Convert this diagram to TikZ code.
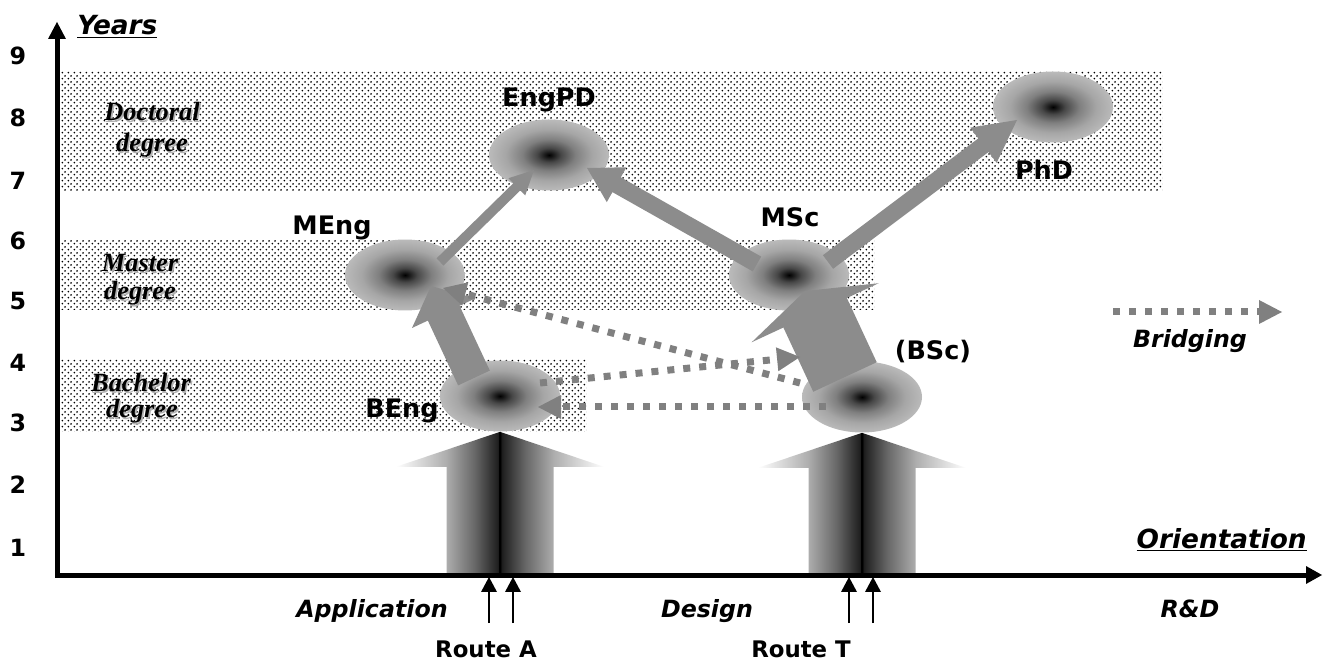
\documentclass[tikz,border=0pt]{standalone}
\usepackage{fontspec}
\usetikzlibrary{shapes.geometric,patterns,calc}
\newfontfamily\dvs{DejaVu Sans}
\newfontfamily\lser{Liberation Serif}
\definecolor{arrc}{gray}{0.55}
\definecolor{dotc}{gray}{0.5}
\pgfdeclarepatternformonly{bgdots}{\pgfqpoint{0pt}{0pt}}{\pgfqpoint{3.5pt}{3.5pt}}{\pgfqpoint{3.5pt}{3.5pt}}{%
  \pgfpathcircle{\pgfqpoint{0.875pt}{0.875pt}}{0.6pt}%
  \pgfpathcircle{\pgfqpoint{2.625pt}{2.625pt}}{0.6pt}%
  \pgfusepath{fill}}
\pgfdeclareradialshading{blob}{\pgfpoint{0bp}{0bp}}{color(0bp)=(black); color(5bp)=(black!72); color(11bp)=(black!50); color(18bp)=(black!35); color(25bp)=(black!27); color(50bp)=(black!27)}
\pgfdeclarehorizontalshading{route}{100bp}{color(0bp)=(white); color(25bp)=(white); color(37.1bp)=(black!32); color(44bp)=(black!60); color(49.5bp)=(black!88); color(50bp)=(black); color(50.5bp)=(black!88); color(56bp)=(black!60); color(62.9bp)=(black!32); color(75bp)=(white); color(100bp)=(white)}
\newcommand\headtri[5]{%
  \coordinate (hb) at ($(#2)!#3!(#1)$);
  \fill[#5] ($(hb)!#4!90:(#2)$) -- (#2) -- ($(hb)!#4!-90:(#2)$) -- cycle;}
\newcommand\fatarr[6]{%
  \coordinate (hb) at ($(#2)!#5!(#1)$);
  \fill[#6] ($(#1)!#3!90:(#2)$) -- ($(hb)!#3!-90:(#1)$) -- ($(hb)!#4!-90:(#1)$) -- (#2) -- ($(hb)!#4!90:(#1)$) -- ($(hb)!#3!90:(#1)$) -- ($(#1)!#3!-90:(#2)$) -- cycle;}
\newcommand\dotarr[2]{%
  \coordinate (hb) at ($(#2)!0.46cm!(#1)$);
  \draw[dotline] (#1) -- (hb);
  \fill[dotc] ($(hb)!0.24cm!90:(#2)$) -- (#2) -- ($(hb)!0.24cm!-90:(#2)$) -- cycle;}
\begin{document}
\begin{tikzpicture}[x=0.02cm,y=-0.02cm,
  band/.style={pattern=bgdots, pattern color=black},
  blob/.style={ellipse, shade, shading=blob, minimum width=2.4cm, minimum height=1.42cm, inner sep=0pt},
  dotline/.style={draw=dotc, line width=0.14cm, dash pattern=on 0.14cm off 0.18cm},
  nlab/.style={font=\dvs\bfseries\fontsize{14.5}{17}\selectfont, inner sep=0pt, anchor=base},
  rlab/.style={font=\dvs\bfseries\fontsize{13}{15}\selectfont, inner sep=0pt, anchor=base},
  ilab/.style={font=\dvs\bfseries\itshape\fontsize{13.5}{16}\selectfont, inner sep=0pt, anchor=base},
  alab/.style={font=\dvs\bfseries\itshape\fontsize{15}{17}\selectfont, inner sep=0pt, anchor=base},
  num/.style={font=\dvs\bfseries\fontsize{13.5}{15}\selectfont, inner sep=0pt, anchor=base},
  deg/.style={font=\lser\bfseries\itshape\fontsize{15}{17}\selectfont, inner sep=0pt, anchor=base},
  degsh/.style={deg, text=black!30},
  axisline/.style={line width=0.1cm, line join=miter},
  thin/.style={line width=0.04cm}]
\useasboundingbox (0,0) rectangle (1324,661);
\fill[white] (0,0) rectangle (1324,661);
% bands
\fill[band] (60,72) rectangle (1162,191);
\fill[band] (60,240) rectangle (874,310);
\fill[band] (60,360) rectangle (586,432);
% band labels
\foreach \nm/\t/\xx/\yy in {d1/Doctoral/152/121, d2/degree/152/152, m1/Master/140/272, m2/degree/140/300, b1/Bachelor/141/392, b2/degree/142/418}{
  \node[degsh] (sh\nm) at (\xx+1.5,\yy+1.5) {\t};
  \node[deg] (lab\nm) at (\xx,\yy) {\t};
}
% degree nodes
\node[blob] (EngPD) at (549,155) {};
\node[blob] (MEng) at (405,275) {};
\node[blob] (BEng) at (500,396) {};
\node[blob] (MSc) at (789,275) {};
\node[blob] (BSc) at (862,397) {};
\node[blob] (PhD) at (1053,107) {};
% route arrows
\foreach \nd in {BEng,BSc}{
  \shade[shading=route] ($(\nd.south)+(-53.5,143.5)$) -- ($(\nd.south)+(-53.5,35)$) -- ($(\nd.south)+(-104,35)$) -- (\nd.south) -- ($(\nd.south)+(104,35)$) -- ($(\nd.south)+(53.5,35)$) -- ($(\nd.south)+(53.5,143.5)$) -- cycle;
  \draw[black, line width=0.03cm] (\nd.south) -- ($(\nd.south)+(0,143.5)$);
}
% fat arrows
\coordinate (mengA) at ($(MEng)+(35,-13)$);
\coordinate (engpdA) at ($(EngPD)+(-15,15)$);
\coordinate (mscB) at ($(MSc)+(-32,-11)$);
\coordinate (engpdB) at ($(EngPD)+(38,13)$);
\coordinate (mscC) at ($(MSc)+(39,-13)$);
\coordinate (phdC) at ($(PhD)+(-36,13)$);
\coordinate (bengD) at ($(BEng)+(-26,-18)$);
\coordinate (mengD) at ($(MEng)+(26,11)$);
\coordinate (bscE) at ($(BSc)+(-17,-20)$);
\coordinate (mscE) at ($(MSc)+(16,16)$);
\fatarr{mengA}{engpdA}{0.1cm}{0.24cm}{0.48cm}{arrc}
\fatarr{mscB}{engpdB}{0.17cm}{0.4cm}{0.68cm}{arrc}
\fatarr{mscC}{phdC}{0.17cm}{0.44cm}{0.84cm}{arrc}
\fatarr{bengD}{mengD}{0.35cm}{0.7cm}{0.6cm}{arrc}
\fatarr{bscE}{mscE}{0.7cm}{1.4cm}{0.48cm}{arrc}
% dotted bridging arrows
\coordinate (bscF) at ($(BSc)+(-36,10)$);
\coordinate (bengF) at ($(BEng)+(38,11)$);
\coordinate (bengG) at ($(BEng)+(40,-13)$);
\coordinate (bridgeG) at ($(BSc)+(-62,-40)$);
\coordinate (bscH) at ($(BSc)+(-62,-14)$);
\coordinate (mengH) at ($(MEng)+(38,13)$);
\dotarr{bscF}{bengF}
\dotarr{bengG}{bridgeG}
\dotarr{bscH}{mengH}
% legend
\coordinate (legS) at (1113,312);
\coordinate (legE) at (1282,312);
\dotarr{legS}{legE}
\node[ilab] (bridging) at (1190,348) {Bridging};
% axes
\coordinate (O) at (57,575);
\coordinate (ytip) at (57,22);
\coordinate (xtip) at (1322,575);
\coordinate (ybase) at (57,38);
\coordinate (xbase) at (1306,575);
\draw[axisline] (ybase) -- (O) -- (xbase);
\headtri{O}{ytip}{0.34cm}{0.18cm}{black}
\headtri{O}{xtip}{0.32cm}{0.18cm}{black}
% route small arrows
\foreach \xx/\nm in {489/a1,513/a2,849/t1,873/t2}{
  \coordinate (\nm s) at (\xx,623);
  \coordinate (\nm e) at (\xx,577);
  \coordinate (\nm b) at (\xx,590);
  \draw[thin] (\nm s) -- (\nm b);
  \headtri{\nm s}{\nm e}{0.3cm}{0.16cm}{black}
}
% numbers
\foreach \n/\yy in {9/65,8/127,7/190,6/250,5/310,4/372,3/432,2/494,1/556}{
  \node[num] (num\n) at (18,\yy) {\n};
}
% axis titles
\node[alab, anchor=base west] (years) at (77,35) {\underline{Years}};
\node[alab, anchor=base east] (orient) at (1307,548) {\underline{Orientation}};
% node labels
\node[nlab] (tEngPD) at (549,107) {EngPD};
\node[nlab] (tMEng) at (332,235) {MEng};
\node[nlab] (tBEng) at (402,418) {BEng};
\node[nlab] (tMSc) at (790,227) {MSc};
\node[nlab] (tBSc) at (933,360) {(BSc)};
\node[nlab] (tPhD) at (1044,180) {PhD};
% bottom labels
\node[ilab, anchor=base east] (appl) at (448,617) {Application};
\node[ilab] (design) at (707,617) {Design};
\node[ilab] (rd) at (1190,617) {R\&D};
\node[rlab] (routeA) at (486,657) {Route A};
\node[rlab] (routeT) at (801,657) {Route T};
\end{tikzpicture}
\end{document}
